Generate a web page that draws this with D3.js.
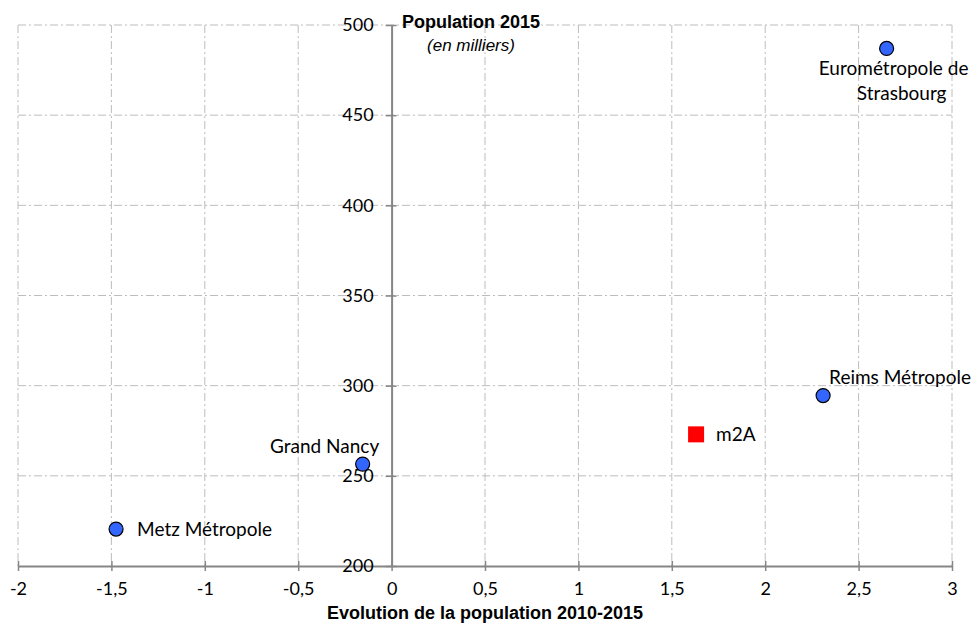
<!DOCTYPE html>
<html><head><meta charset="utf-8">
<script src="https://cdn.jsdelivr.net/npm/d3@7"></script>
<style>body{margin:0;background:#fff}svg{display:block}</style>
</head><body><svg id="c" width="975" height="625"></svg>
<script>
const names = ["Eurométropole de Strasbourg","Reims Métropole","m2A","Grand Nancy","Metz Métropole"];
const evolution = [2.65, 2.31, 1.63, -0.155, -1.475];
const population = [487, 294.5, 273, 256.5, 220.5];
const isM2A = [false,false,true,false,false];
const xTicks = [-2,-1.5,-1,-0.5,0,0.5,1,1.5,2,2.5,3];
const yTicks = [200,250,300,350,400,450,500];
const xTitle = "Evolution de la population 2010-2015";
const yTitle = "Population 2015";
const ySub = "(en milliers)";

const svg = d3.select("#c");
const x = d3.scaleLinear().domain([-2,3]).range([18,952]);
const y = d3.scaleLinear().domain([200,500]).range([566,25]);
const fmt = d => String(d).replace(".", ",");
const dash = "8,3,2,3";
const lf = "Lato, 'Open Sans', sans-serif";
const af = "'Liberation Sans', Arial, sans-serif";

// grid
svg.append("g").selectAll("line").data(xTicks.filter(d=>d!==0)).join("line")
  .attr("x1",d=>x(d)).attr("x2",d=>x(d)).attr("y1",y(500)).attr("y2",y(200))
  .attr("stroke","#bdbdbd").attr("stroke-dasharray",dash);
svg.append("g").selectAll("line").data(yTicks.filter(d=>d!==200)).join("line")
  .attr("x1",x(-2)).attr("x2",x(3)).attr("y1",d=>y(d)).attr("y2",d=>y(d))
  .attr("stroke","#bdbdbd").attr("stroke-dasharray",dash);

// x axis
const xa = svg.append("g").attr("transform",`translate(0,${y(200)})`)
  .call(d3.axisBottom(x).tickValues(xTicks).tickFormat(fmt).tickSize(0).tickPadding(16));
xa.select(".domain").attr("stroke","#868686").attr("stroke-width",2);
xa.selectAll("text").attr("font-family",lf).attr("font-size",18).attr("fill","#000");
xa.selectAll(".tick").append("line").attr("y1",-5).attr("y2",5).attr("stroke","#868686").attr("stroke-width",1.5);

// y axis
const ya = svg.append("g").attr("transform",`translate(${x(0)},0)`)
  .call(d3.axisLeft(y).tickValues(yTicks).tickSize(0).tickPadding(18));
ya.select(".domain").attr("stroke","#868686").attr("stroke-width",2);
ya.selectAll("text").attr("font-family",lf).attr("font-size",18).attr("fill","#000");
ya.selectAll(".tick").append("line").attr("x1",-6).attr("x2",5).attr("stroke","#868686").attr("stroke-width",1.5);
ya.selectAll(".tick").filter(d=>d===200).select("line").remove();

// titles
svg.append("text").attr("x",471).attr("y",28).attr("text-anchor","middle")
  .attr("font-family",af).attr("font-weight","bold").attr("font-size",18).text(yTitle);
svg.append("text").attr("x",471).attr("y",51).attr("text-anchor","middle")
  .attr("font-family",af).attr("font-style","italic").attr("font-size",17).text(ySub);
svg.append("text").attr("x",485).attr("y",619).attr("text-anchor","middle")
  .attr("font-family",af).attr("font-weight","bold").attr("font-size",18).text(xTitle);

// points
const data = names.map((n,i)=>({n, ev:evolution[i], p:population[i], sq:isM2A[i]}));
svg.append("g").selectAll("circle").data(data.filter(d=>!d.sq)).join("circle")
  .attr("cx",d=>x(d.ev)).attr("cy",d=>y(d.p)).attr("r",7)
  .attr("fill","#3366ff").attr("stroke","#000").attr("stroke-width",1.2);
svg.append("g").selectAll("rect").data(data.filter(d=>d.sq)).join("rect")
  .attr("x",d=>x(d.ev)-8).attr("y",d=>y(d.p)-8).attr("width",16).attr("height",16)
  .attr("fill","#ff0000");

// labels
const lab = svg.append("g").attr("font-family",lf).attr("font-size",19).attr("fill","#000");
const offs = {
  "Eurométropole de Strasbourg": {anchor:"middle", lines:[["Eurométropole de",7,27],["Strasbourg",15,52]]},
  "Reims Métropole": {anchor:"start", lines:[[null,6,-12]]},
  "m2A": {anchor:"start", lines:[[null,20,7]]},
  "Grand Nancy": {anchor:"middle", lines:[[null,-38,-11]]},
  "Metz Métropole": {anchor:"start", lines:[[null,21,7]]}
};
data.forEach(d=>{
  const o = offs[d.n];
  o.lines.forEach(([txt,dx,dy])=>{
    lab.append("text").attr("x",x(d.ev)+dx).attr("y",y(d.p)+dy)
      .attr("text-anchor",o.anchor).text(txt || d.n);
  });
});
</script></body></html>
